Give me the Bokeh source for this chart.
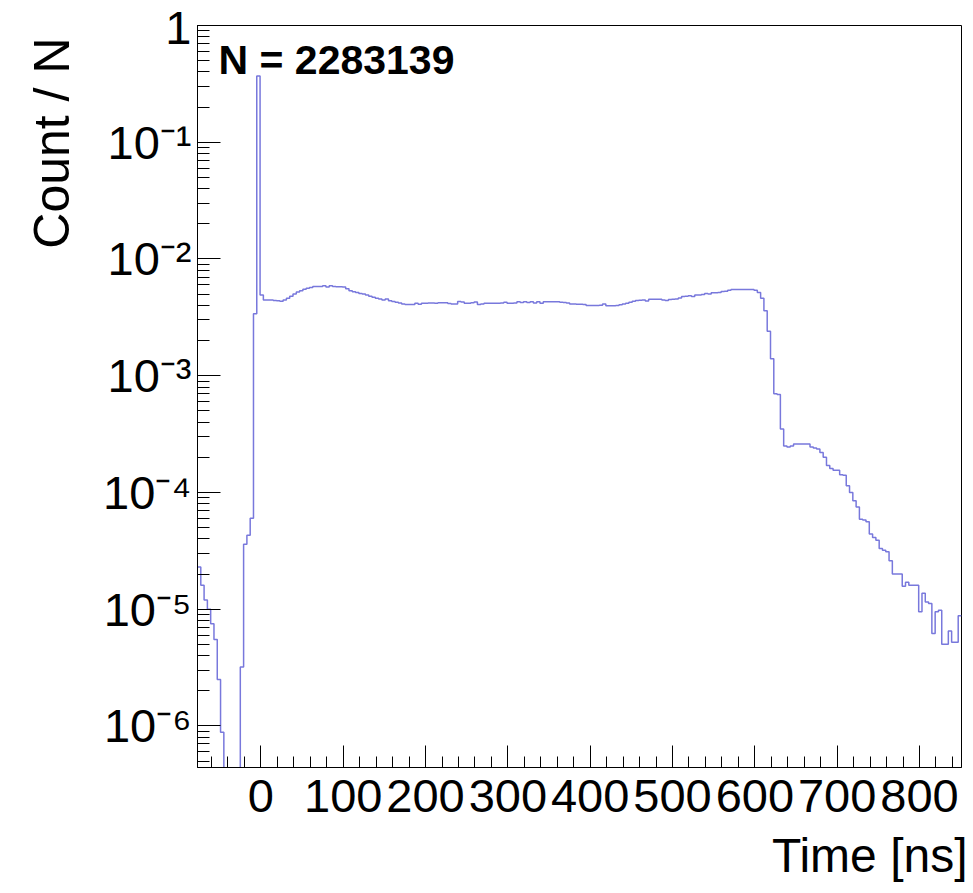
import math
from bokeh.plotting import figure
from bokeh.models import (Range1d, SingleIntervalTicker, LogTicker,
                          CustomJSTickFormatter, Label, Title, ColumnDataSource)
from bokeh.embed import file_html
from bokeh.resources import INLINE

# ---- data ----
bin_start = -77.0     # ns, lower edge of the first bin
bin_width = 4.0       # ns
counts_per_n = [
    2.3e-5, 1.6e-5, 1.2e-5, 1.0e-5, 7.5e-6, 5.5e-6, 2.5e-6, 8.8e-7, 0, 0,
    0, 0, 0, 3.2e-6, 3.6e-5, 4.3e-5, 6.0e-5, 3.4e-3, 0.37, 4.9e-3,
    4.45e-3, 4.45e-3, 4.45e-3, 4.4e-3, 4.38e-3, 4.35e-3, 4.45e-3, 4.6e-3, 4.8e-3, 5.0e-3,
    5.2e-3, 5.35e-3, 5.5e-3, 5.6e-3, 5.7e-3, 5.8e-3, 5.8e-3, 5.8e-3, 5.9e-3, 5.75e-3,
    5.9e-3, 5.8e-3, 5.78e-3, 5.78e-3, 5.75e-3, 5.55e-3, 5.35e-3, 5.25e-3, 5.15e-3, 5.05e-3,
    5.0e-3, 4.9e-3, 4.8e-3, 4.7e-3, 4.6e-3, 4.55e-3, 4.45e-3, 4.55e-3, 4.38e-3, 4.32e-3,
    4.25e-3, 4.2e-3, 4.12e-3, 4.08e-3, 4.08e-3, 4.08e-3, 4.17e-3, 4.1e-3, 4.17e-3, 4.17e-3,
    4.2e-3, 4.2e-3, 4.18e-3, 4.22e-3, 4.22e-3, 4.22e-3, 4.15e-3, 4.12e-3, 4.12e-3, 4.32e-3,
    4.28e-3, 4.17e-3, 4.17e-3, 4.22e-3, 4.28e-3, 4.08e-3, 4.12e-3, 4.17e-3, 4.17e-3, 4.18e-3,
    4.18e-3, 4.18e-3, 4.2e-3, 4.25e-3, 4.18e-3, 4.18e-3, 4.2e-3, 4.29e-3, 4.23e-3, 4.29e-3,
    4.23e-3, 4.29e-3, 4.2e-3, 4.29e-3, 4.18e-3, 4.29e-3, 4.29e-3, 4.29e-3, 4.29e-3, 4.29e-3,
    4.26e-3, 4.23e-3, 4.2e-3, 4.12e-3, 4.12e-3, 4.1e-3, 4.1e-3, 4.07e-3, 3.99e-3, 3.99e-3,
    3.99e-3, 3.99e-3, 4.02e-3, 4.12e-3, 3.97e-3, 3.97e-3, 3.97e-3, 3.99e-3, 4.05e-3, 4.12e-3,
    4.18e-3, 4.26e-3, 4.34e-3, 4.40e-3, 4.43e-3, 4.46e-3, 4.37e-3, 4.52e-3, 4.52e-3, 4.52e-3,
    4.52e-3, 4.46e-3, 4.40e-3, 4.49e-3, 4.52e-3, 4.55e-3, 4.64e-3, 4.76e-3, 4.79e-3, 4.85e-3,
    4.76e-3, 4.91e-3, 4.91e-3, 4.95e-3, 5.07e-3, 5.0e-3, 5.14e-3, 5.14e-3, 5.17e-3, 5.27e-3,
    5.3e-3, 5.4e-3, 5.47e-3, 5.47e-3, 5.47e-3, 5.47e-3, 5.47e-3, 5.47e-3, 5.47e-3, 5.40e-3,
    5.15e-3, 4.6e-3, 3.6e-3, 2.4e-3, 1.4e-3, 7.0e-4, 6.9e-4, 3.5e-4, 2.5e-4, 2.45e-4,
    2.5e-4, 2.6e-4, 2.6e-4, 2.6e-4, 2.6e-4, 2.6e-4, 2.45e-4, 2.4e-4, 2.35e-4, 2.2e-4,
    2.0e-4, 1.7e-4, 1.6e-4, 1.55e-4, 1.55e-4, 1.42e-4, 1.4e-4, 1.14e-4, 1.0e-4, 8.5e-5,
    7.5e-5, 5.9e-5, 5.8e-5, 5.6e-5, 4.4e-5, 4.1e-5, 3.9e-5, 3.3e-5, 3.2e-5, 3.1e-5,
    2.6e-5, 2.0e-5, 2.0e-5, 2.0e-5, 1.57e-5, 1.7e-5, 1.6e-5, 1.6e-5, 1.6e-5, 9.5e-6,
    1.37e-5, 1.15e-5, 1.12e-5, 6.2e-6, 9.5e-6, 9.8e-6, 5.0e-6, 5.0e-6, 6.5e-6, 5.2e-6,
    5.2e-6, 8.8e-6,
]
n_entries = 2283139
x_label = "Time [ns]"
y_label = "Count / N"
x_range = (-77, 851)
y_range = (4.4e-7, 1.0)

# ---- build step outline ----
edges = [bin_start + bin_width * i for i in range(len(counts_per_n) + 1)]
floor = 1e-12  # empty bins drop out of the log frame
ys = [v if v > 0 else floor for v in counts_per_n]
ys = ys + [ys[-1]]
src = ColumnDataSource(dict(x=edges, y=ys))

FONT = "Liberation Sans"

p = figure(width=973, height=893, y_axis_type="log",
           x_range=Range1d(*x_range), y_range=Range1d(*y_range),
           output_backend="svg", toolbar_location=None,
           min_border_left=197, min_border_right=12,
           min_border_top=25, min_border_bottom=126)

p.step(x="x", y="y", source=src, mode="after",
       line_color="#7878dc", line_width=1.5)

p.xgrid.visible = False
p.ygrid.visible = False
p.outline_line_color = "black"
p.outline_line_width = 1
p.background_fill_color = "white"
p.border_fill_color = "white"

# x axis
xa = p.xaxis[0]
xa.ticker = SingleIntervalTicker(interval=100, num_minor_ticks=5)
xa.major_tick_in = 22
xa.major_tick_out = 0
xa.minor_tick_in = 11
xa.minor_tick_out = 0
xa.axis_line_color = "black"
xa.major_tick_line_color = "black"
xa.minor_tick_line_color = "black"
xa.major_label_text_font = FONT
xa.major_label_text_font_size = "47px"
xa.major_label_text_color = "black"
xa.major_label_standoff = 12

# y axis
ya = p.yaxis[0]
ya.ticker = LogTicker(num_minor_ticks=10)
ya.formatter = CustomJSTickFormatter(code="""
const e = Math.round(Math.log10(tick));
if (e === 0) return "1";
const m = {"-":"\u207b","0":"\u2070","1":"\u00b9","2":"\u00b2","3":"\u00b3",
           "4":"\u2074","5":"\u2075","6":"\u2076","7":"\u2077","8":"\u2078","9":"\u2079"};
return "10" + String(e).split("").map(c => m[c]).join("");
""")
ya.major_tick_in = 23
ya.major_tick_out = 0
ya.minor_tick_in = 12
ya.minor_tick_out = 0
ya.axis_line_color = "black"
ya.major_tick_line_color = "black"
ya.minor_tick_line_color = "black"
ya.major_label_text_font = FONT
ya.major_label_text_font_size = "47px"
ya.major_label_text_color = "black"
ya.major_label_standoff = 6

# axis titles as side titles, pushed to the far end of each axis
p.add_layout(Title(text=x_label, align="right", offset=-6, standoff=24,
                   text_font=FONT, text_font_size="48px",
                   text_font_style="normal", text_color="black"), "below")
p.add_layout(Title(text=y_label, align="right", offset=12, standoff=42,
                   text_font=FONT, text_font_size="50px",
                   text_font_style="normal", text_color="black"), "left")

p.add_layout(Label(x=21, y=708, x_units="screen", y_units="screen",
                   text=f"N = {n_entries}", text_align="left",
                   text_baseline="alphabetic", text_font=FONT,
                   text_font_style="bold",
                   text_font_size="41px", text_color="black"))

open("out.html", "w").write(file_html(p, INLINE))
